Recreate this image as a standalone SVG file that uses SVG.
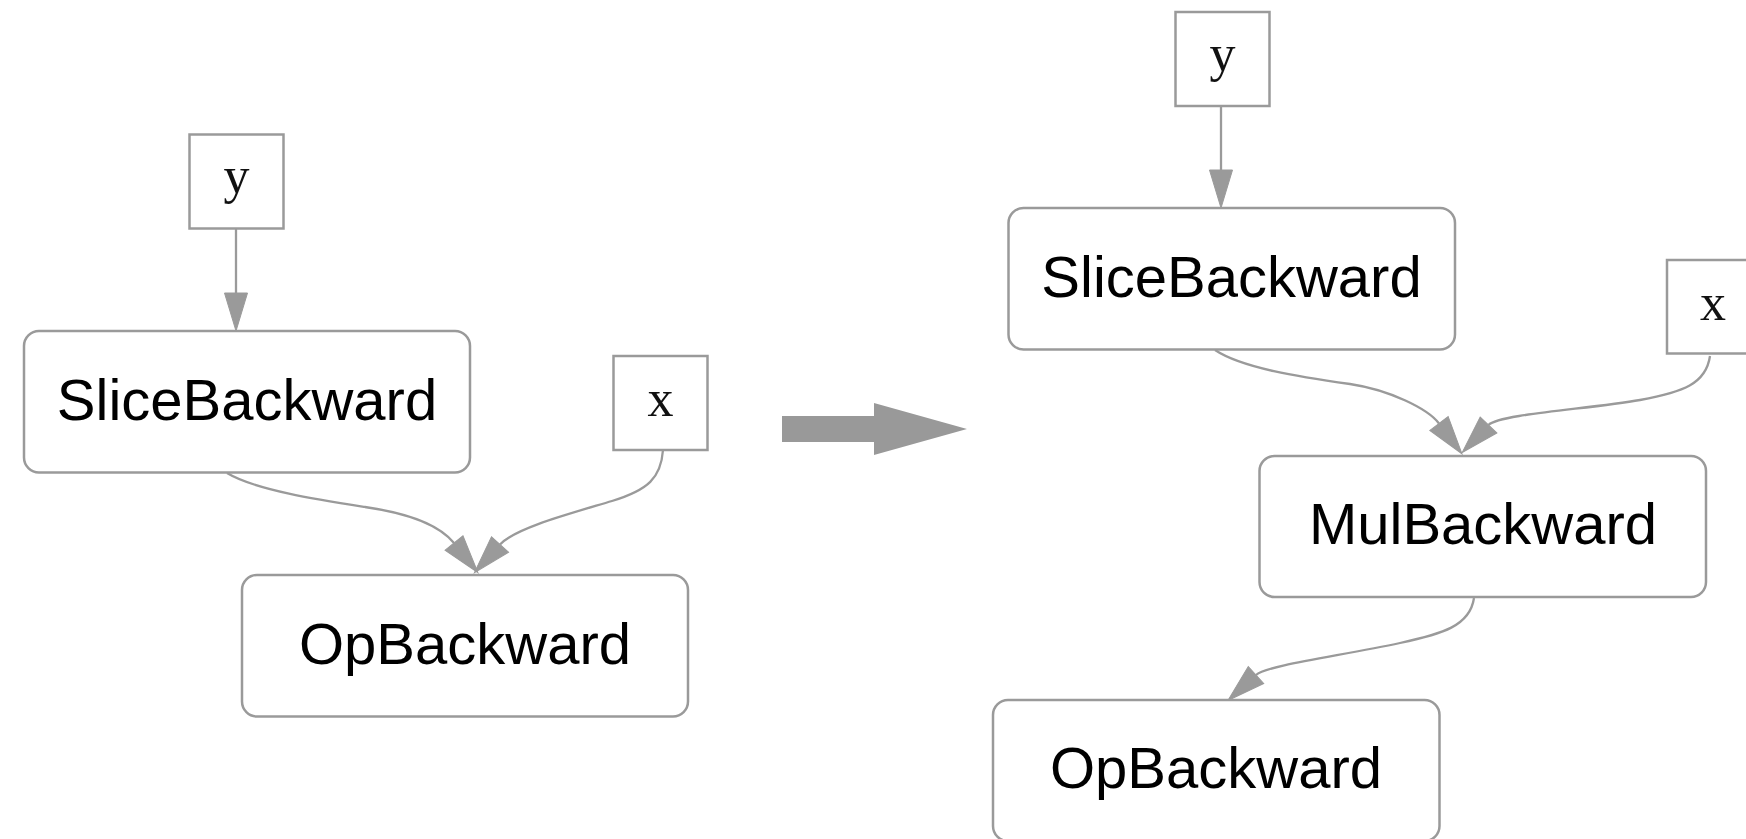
<svg xmlns="http://www.w3.org/2000/svg" width="1746" height="839" viewBox="0 0 1746 839">
<style>
.box{fill:#ffffff;stroke:#9a9a9a;stroke-width:2.5}
.edge{fill:none;stroke:#9a9a9a;stroke-width:2.3;marker-end:url(#ah)}
.lbl{font-family:"Liberation Sans",Arial,Helvetica,sans-serif;font-size:58px;fill:#000000;text-anchor:middle}
.var{font-family:"Liberation Serif","Times New Roman",serif;font-size:52px;fill:#111111;text-anchor:middle}
</style>
<defs>
<marker id="ah" markerUnits="userSpaceOnUse" viewBox="0 -12 38 24" markerWidth="38" markerHeight="24" refX="0" refY="0" orient="auto" overflow="visible">
<path d="M0,-11.5 L38,0 L0,11.5 z" fill="#9a9a9a" stroke="#9a9a9a" stroke-width="1"/>
</marker>
</defs>
<rect width="1746" height="839" fill="#ffffff"/>
<g id="connectors">
<path class="edge" d="M236,229 L236,293"/>
<path class="edge" d="M227,473 C255,490 320,500 365,507 C400,512 437,522 454,543"/>
<path class="edge" d="M663,450 C661,478 648,490 612,501 C572,513 515,528 500,544.5"/>
<path class="edge" d="M1221,106 L1221,170"/>
<path class="edge" d="M1215,350 C1242,368 1300,377 1350,384 C1390,390 1428,409 1439,423.5"/>
<path class="edge" d="M1710,356 C1706,384 1683,392 1640,400 C1590,409 1499,414 1488.5,425"/>
<path class="edge" d="M1474,598 C1470,626 1442,634 1400,643 C1340,656 1267,665 1256,675"/>
</g>
<g id="left-y"><rect class="box" x="189.5" y="134.5" width="94" height="94"/><text class="var" x="236.5" y="193">y</text></g>
<g id="left-slice"><rect class="box" x="24" y="331" width="446" height="141.5" rx="15"/><text class="lbl" x="247" y="419.5">SliceBackward</text></g>
<g id="left-x"><rect class="box" x="613.5" y="356" width="94" height="94"/><text class="var" x="660.5" y="416">x</text></g>
<g id="left-op"><rect class="box" x="242" y="575" width="446" height="141.5" rx="15"/><text class="lbl" x="465" y="663.5">OpBackward</text></g>
<g id="transform-arrow"><polygon points="782,416 874,416 874,403 967,429 874,455 874,442 782,442" fill="#999999"/></g>
<g id="right-y"><rect class="box" x="1175.5" y="12" width="94" height="94"/><text class="var" x="1222.5" y="71">y</text></g>
<g id="right-slice"><rect class="box" x="1008.5" y="208" width="446.5" height="141.5" rx="15"/><text class="lbl" x="1231.5" y="296.5">SliceBackward</text></g>
<g id="right-x"><rect class="box" x="1667" y="260" width="94" height="93.5"/><text class="var" x="1713" y="320">x</text></g>
<g id="right-mul"><rect class="box" x="1259.5" y="456" width="446.5" height="141" rx="15"/><text class="lbl" x="1483" y="544">MulBackward</text></g>
<g id="right-op"><rect class="box" x="993" y="700" width="446.5" height="141" rx="15"/><text class="lbl" x="1216" y="788">OpBackward</text></g>
</svg>
